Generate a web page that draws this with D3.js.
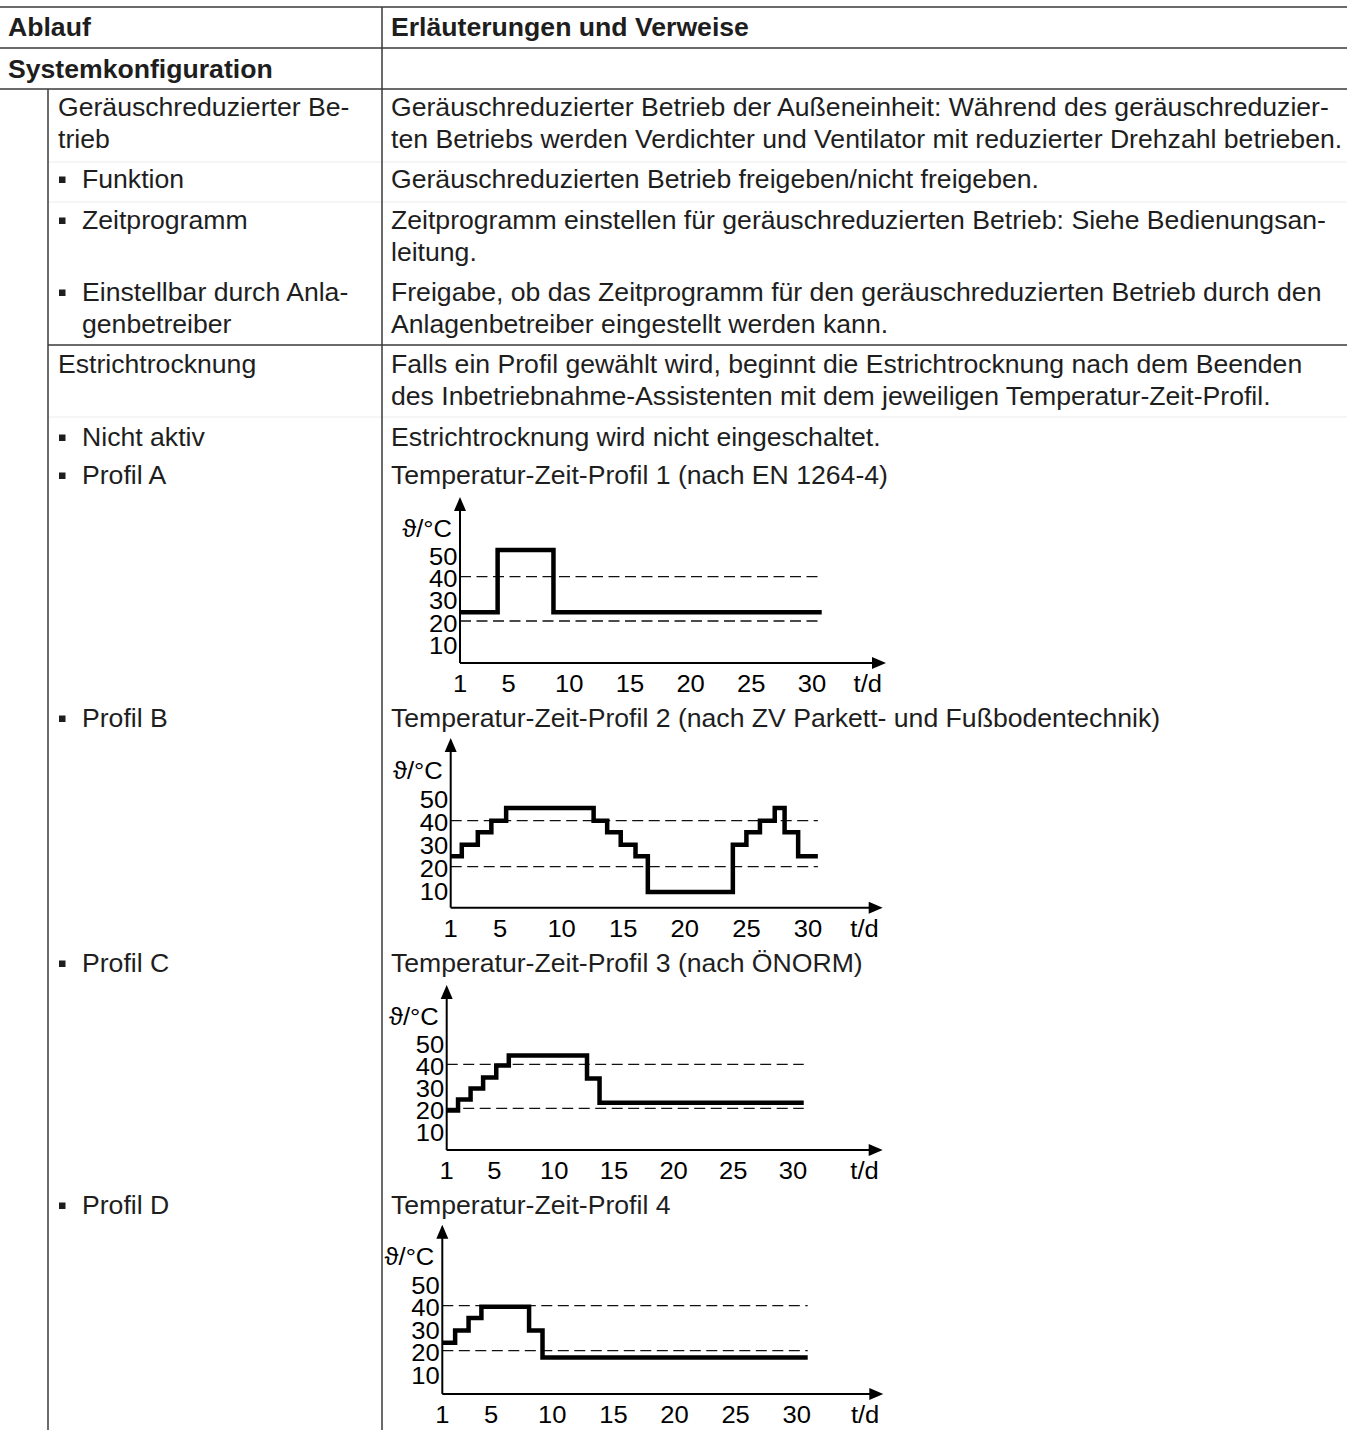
<!DOCTYPE html>
<html>
<head>
<meta charset="utf-8">
<script src="https://cdn.jsdelivr.net/npm/d3@7"></script>
<style>
  body { margin: 0; background: #fff; }
  svg { display: block; font-family: "Liberation Sans", Arial, sans-serif; }
</style>
</head>
<body>
<svg id="page" width="1357" height="1430"></svg>
<script>
// ---- chart data ----
var dayTicks = [1, 5, 10, 15, 20, 25, 30];
var tempTicks = [10, 20, 30, 40, 50];
var guideTemps = [20, 40];

// step profiles: temp[i] is held from day[i] until day[i + 1]
var profileADays = [1, 4.1, 8.7, 30.8];
var profileATemps = [24, 52, 24, 24];

var profileBDays = [1, 1.9, 3.2, 4.3, 5.5, 12.6, 13.7, 14.8, 16.0, 17.0, 23.9, 25.0, 26.1, 27.3, 28.1, 29.2, 30.8];
var profileBTemps = [24.5, 29.5, 35, 40, 45.5, 40, 35, 29.5, 24.5, 9, 29.5, 35, 40, 45.5, 35, 24.5, 24.5];

var profileCDays = [1, 1.95, 3.0, 4.05, 5.15, 6.2, 12.75, 13.8, 30.9];
var profileCTemps = [19, 24, 29, 34, 39.5, 44, 33.5, 22.5, 22.5];

var profileDDays = [1, 2.05, 3.15, 4.2, 8.1, 9.2, 30.9];
var profileDTemps = [23.5, 29, 34.5, 39.5, 29, 17, 17];

// ---- table text ----
var headerLeft = "Ablauf";
var headerRight = "Erläuterungen und Verweise";
var sectionTitle = "Systemkonfiguration";

var rowLeft = [
  ["Geräuschreduzierter Be-", "trieb"],
  ["Funktion"],
  ["Zeitprogramm"],
  ["Einstellbar durch Anla-", "genbetreiber"],
  ["Estrichtrocknung"],
  ["Nicht aktiv"],
  ["Profil A"],
  ["Profil B"],
  ["Profil C"],
  ["Profil D"]
];
var rowBullet = [false, true, true, true, false, true, true, true, true, true];
var rowRight = [
  ["Geräuschreduzierter Betrieb der Außeneinheit: Während des geräuschreduzier-",
   "ten Betriebs werden Verdichter und Ventilator mit reduzierter Drehzahl betrieben."],
  ["Geräuschreduzierten Betrieb freigeben/nicht freigeben."],
  ["Zeitprogramm einstellen für geräuschreduzierten Betrieb: Siehe Bedienungsan-",
   "leitung."],
  ["Freigabe, ob das Zeitprogramm für den geräuschreduzierten Betrieb durch den",
   "Anlagenbetreiber eingestellt werden kann."],
  ["Falls ein Profil gewählt wird, beginnt die Estrichtrocknung nach dem Beenden",
   "des Inbetriebnahme-Assistenten mit dem jeweiligen Temperatur-Zeit-Profil."],
  ["Estrichtrocknung wird nicht eingeschaltet."],
  ["Temperatur-Zeit-Profil 1 (nach EN 1264-4)"],
  ["Temperatur-Zeit-Profil 2 (nach ZV Parkett- und Fußbodentechnik)"],
  ["Temperatur-Zeit-Profil 3 (nach ÖNORM)"],
  ["Temperatur-Zeit-Profil 4"]
];

// ---- layout ----
var PAGE = {
  right: 1347,
  colX: 382,
  indentX: 48,
  fontSize: 25,
  chartFontSize: 24,
  stretch: 1.065,   // source font runs wider than Liberation Sans
  lineGap: 32,
  ink: "#1e1e1e",
  rule: "#3a3a3a"
};
var rowBaseline = [116, 188, 229, 301, 373, 446, 484, 727, 972, 1214];
var faintRules = [162, 202, 417];

var chartLayouts = [
  { days: profileADays, temps: profileATemps, x1: 460, x30: 812, y20: 621, y40: 576.7, axisTemp: 1, arrowLen: 426 },
  { days: profileBDays, temps: profileBTemps, x1: 450.7, x30: 808, y20: 866.7, y40: 820.7, axisTemp: 2.2, arrowLen: 432 },
  { days: profileCDays, temps: profileCTemps, x1: 446.7, x30: 793, y20: 1108.3, y40: 1064.3, axisTemp: 1, arrowLen: 436 },
  { days: profileDDays, temps: profileDTemps, x1: 442.3, x30: 796.7, y20: 1350.7, y40: 1305.7, axisTemp: 0.8, arrowLen: 441 }
];

var svg = d3.select("#page");

function placeText(x, y) {
  return "translate(" + x + "," + y + ") scale(" + PAGE.stretch + ",1)";
}

function addText(parent, x, y, str, opts) {
  opts = opts || {};
  return parent.append("text")
    .attr("transform", placeText(x, y))
    .attr("text-anchor", opts.anchor || "start")
    .attr("font-size", opts.size || PAGE.fontSize)
    .attr("font-weight", opts.bold ? "bold" : null)
    .attr("fill", opts.fill || PAGE.ink)
    .text(str);
}

function hRule(g, x1, x2, y, color, width) {
  g.append("line")
    .attr("x1", x1).attr("x2", x2)
    .attr("y1", y).attr("y2", y)
    .attr("stroke", color).attr("stroke-width", width);
}

function drawTable() {
  var g = svg.append("g").attr("class", "table");

  [7, 48, 89].forEach(function(y) { hRule(g, 0, PAGE.right, y, PAGE.rule, 1.5); });
  hRule(g, PAGE.indentX, PAGE.right, 345, PAGE.rule, 1.5);
  faintRules.forEach(function(y) { hRule(g, PAGE.indentX, PAGE.right, y, "#ececec", 1); });

  // vertical rules
  g.append("line")
    .attr("x1", PAGE.colX).attr("x2", PAGE.colX)
    .attr("y1", 7).attr("y2", 1430)
    .attr("stroke", PAGE.rule).attr("stroke-width", 1.5);
  g.append("line")
    .attr("x1", PAGE.indentX).attr("x2", PAGE.indentX)
    .attr("y1", 89).attr("y2", 1430)
    .attr("stroke", PAGE.rule).attr("stroke-width", 1.5);

  addText(g, 8, 36, headerLeft, { bold: true });
  addText(g, 391, 36, headerRight, { bold: true });
  addText(g, 8, 78, sectionTitle, { bold: true });

  rowLeft.forEach(function(lines, i) {
    var base = rowBaseline[i];
    var textX = rowBullet[i] ? 82 : 58;
    if (rowBullet[i]) {
      g.append("rect")
        .attr("x", 59).attr("y", base - 11.5)
        .attr("width", 6.5).attr("height", 6.5)
        .attr("fill", PAGE.ink);
    }
    lines.forEach(function(line, j) {
      addText(g, textX, base + j * PAGE.lineGap, line);
    });
    rowRight[i].forEach(function(line, j) {
      addText(g, 391, base + j * PAGE.lineGap, line);
    });
  });
}

function drawProfile(layout) {
  var g = svg.append("g").attr("class", "profile");

  var x = d3.scaleLinear().domain([1, 30]).range([layout.x1, layout.x30]);
  var y = d3.scaleLinear().domain([20, 40]).range([layout.y20, layout.y40]);

  var axisY = y(layout.axisTemp);
  var axisX = x(1);
  var topY = y(76);
  var endX = axisX + layout.arrowLen;
  var lastDay = layout.days[layout.days.length - 1];

  // dashed guides at 20 and 40 degrees
  g.selectAll(".guide")
    .data(guideTemps)
    .enter()
    .append("line")
    .attr("class", "guide")
    .attr("x1", axisX).attr("x2", x(lastDay))
    .attr("y1", function(d) { return y(d); })
    .attr("y2", function(d) { return y(d); })
    .attr("stroke", "#111")
    .attr("stroke-width", 1.3)
    .attr("stroke-dasharray", "11,5.5");

  // axes with arrowheads
  g.append("line")
    .attr("x1", axisX).attr("x2", axisX)
    .attr("y1", axisY).attr("y2", topY + 10)
    .attr("stroke", "#000").attr("stroke-width", 2);
  g.append("line")
    .attr("x1", axisX).attr("x2", endX - 10)
    .attr("y1", axisY).attr("y2", axisY)
    .attr("stroke", "#000").attr("stroke-width", 2);
  g.append("path")
    .attr("d", "M" + axisX + "," + topY + "L" + (axisX - 6) + "," + (topY + 14) + "L" + (axisX + 6) + "," + (topY + 14) + "Z")
    .attr("fill", "#000");
  g.append("path")
    .attr("d", "M" + endX + "," + axisY + "L" + (endX - 14) + "," + (axisY - 6) + "L" + (endX - 14) + "," + (axisY + 6) + "Z")
    .attr("fill", "#000");

  // tick labels
  g.selectAll(".ytick")
    .data(tempTicks)
    .enter()
    .append("text")
    .attr("class", "ytick")
    .attr("transform", function(d) { return placeText(axisX - 2.5, y(d) + 10.5); })
    .attr("text-anchor", "end")
    .attr("font-size", PAGE.chartFontSize)
    .attr("fill", "#000")
    .text(function(d) { return d; });

  g.selectAll(".xtick")
    .data(dayTicks)
    .enter()
    .append("text")
    .attr("class", "xtick")
    .attr("transform", function(d) { return placeText(x(d), axisY + 29); })
    .attr("text-anchor", "middle")
    .attr("font-size", PAGE.chartFontSize)
    .attr("fill", "#000")
    .text(function(d) { return d; });

  addText(g, axisX - 8, y(62) + 9, "ϑ/°C", { anchor: "end", fill: "#000", size: PAGE.chartFontSize });
  addText(g, endX - 4, axisY + 29, "t/d", { anchor: "end", fill: "#000", size: PAGE.chartFontSize });

  // the profile itself
  var points = layout.days.map(function(d, i) { return [d, layout.temps[i]]; });
  var line = d3.line()
    .x(function(d) { return x(d[0]); })
    .y(function(d) { return y(d[1]); })
    .curve(d3.curveStepAfter);

  g.append("path")
    .datum(points)
    .attr("d", line)
    .attr("fill", "none")
    .attr("stroke", "#000")
    .attr("stroke-width", 4.5)
    .attr("stroke-linejoin", "miter");
}

drawTable();
chartLayouts.forEach(drawProfile);
</script>
</body>
</html>
